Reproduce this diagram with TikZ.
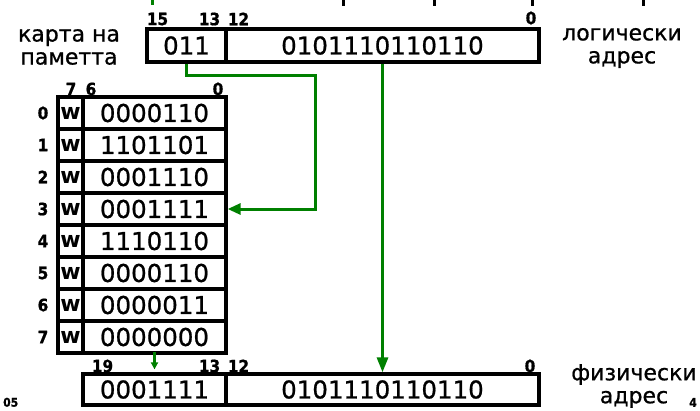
\documentclass[tikz,border=0pt]{standalone}
\usepackage{fontspec}
\setmainfont{DejaVu Sans}
\newfontfamily\digfont{DejaVu Sans}[FakeBold=0.8]
\newfontfamily\lblfont{DejaVu Sans}[Script=Cyrillic,Language=Bulgarian,FakeBold=0.8]
\newfontfamily\bitfont{DejaVu Sans Condensed Bold}[FakeBold=1]
\newfontfamily\wfont{DejaVu Sans Bold}
\usetikzlibrary{arrows.meta}
\definecolor{gr}{RGB}{0,128,0}
\begin{document}
\begin{tikzpicture}[x=1pt,y=-1pt,
  cell/.style={draw, line width=3.3pt, rectangle, inner sep=0pt, anchor=center,
    font=\digfont\fontsize{24.5}{24.5}\selectfont},
  bitlbl/.style={inner sep=0pt, font=\bitfont\fontsize{17}{17}\selectfont},
  lbl/.style={inner sep=0pt, align=center, font=\lblfont\fontsize{22}{23}\selectfont},
  gline/.style={draw=gr, line width=3pt},
  frag/.style={line width=3pt}]
\useasboundingbox (0,0) rectangle (700,410);
% cropped fragments at the top edge
\draw[frag, gr] (152,0) -- (152,5);
\foreach \xx in {343,434,532,643} \draw[frag] (\xx,0) -- (\xx,6);
% logical address
\node[cell, minimum width=79pt, minimum height=33pt] (seg) at (186.5,45.5) {011};
\node[cell, minimum width=313pt, minimum height=33pt] (off) at (382.5,45.5) {0101110110110};
\node[bitlbl] (b15) at (157.5,19) {15};
\node[bitlbl] (b13) at (209.5,19) {13};
\node[bitlbl] (b12) at (238.5,19) {12};
\node[bitlbl] (b0) at (531,18) {0};
\node[lbl] (kart) at (69,47) {карта на\\паметта};
\node[lbl] (logi) at (622,48) {логически\\адрес};
% memory map
\node[bitlbl] (t7) at (71,89) {7};
\node[bitlbl] (t6) at (91,89) {6};
\node[bitlbl] (t0) at (218,89) {0};
\foreach \i/\v in {0/0000110,1/1101101,2/0001110,3/0001111,4/1110110,5/0000110,6/0000011,7/0000000}{
  \node[cell, minimum width=25pt, minimum height=32pt, font=\wfont\fontsize{22}{22}\selectfont] (w\i) at (70.5,{113+32*\i}) {w};
  \node[cell, minimum width=143pt, minimum height=32pt] (v\i) at (154.5,{113+32*\i}) {\v};
  \node[bitlbl] (r\i) at (43,{113+32*\i}) {\i};
}
% physical address
\node[cell, minimum width=143pt, minimum height=31pt] (pf) at (154.5,389.5) {0001111};
\node[cell, minimum width=313pt, minimum height=31pt] (poff) at (382.5,389.5) {0101110110110};
\node[bitlbl] (p19) at (102.5,366) {19};
\node[bitlbl] (p13) at (209.5,366) {13};
\node[bitlbl] (p12) at (238.5,366) {12};
\node[bitlbl] (p0) at (530,366) {0};
\node[lbl] (fiz) at (634,386) {физически\\адрес};
% connectors
\coordinate (c1) at (315,75);
\draw[gline, -{Triangle[length=13pt,width=11pt]}] (seg.south) |- (c1) |- (v3.east);
\draw[gline, -{Triangle[length=15pt,width=11pt]}] (off.south) -- (poff.north);
\draw[gline, -{Triangle[length=7pt,width=7pt]}, shorten <=-3pt, shorten >=3pt] (v7.south) -- (pf.north);
% page number fragments
\node[bitlbl, font=\bitfont\fontsize{12}{12}\selectfont, anchor=south west] (pn1) at (3,407) {05};
\node[bitlbl, font=\bitfont\fontsize{12}{12}\selectfont, anchor=south east] (pn2) at (697,407) {4};
\end{tikzpicture}
\end{document}
